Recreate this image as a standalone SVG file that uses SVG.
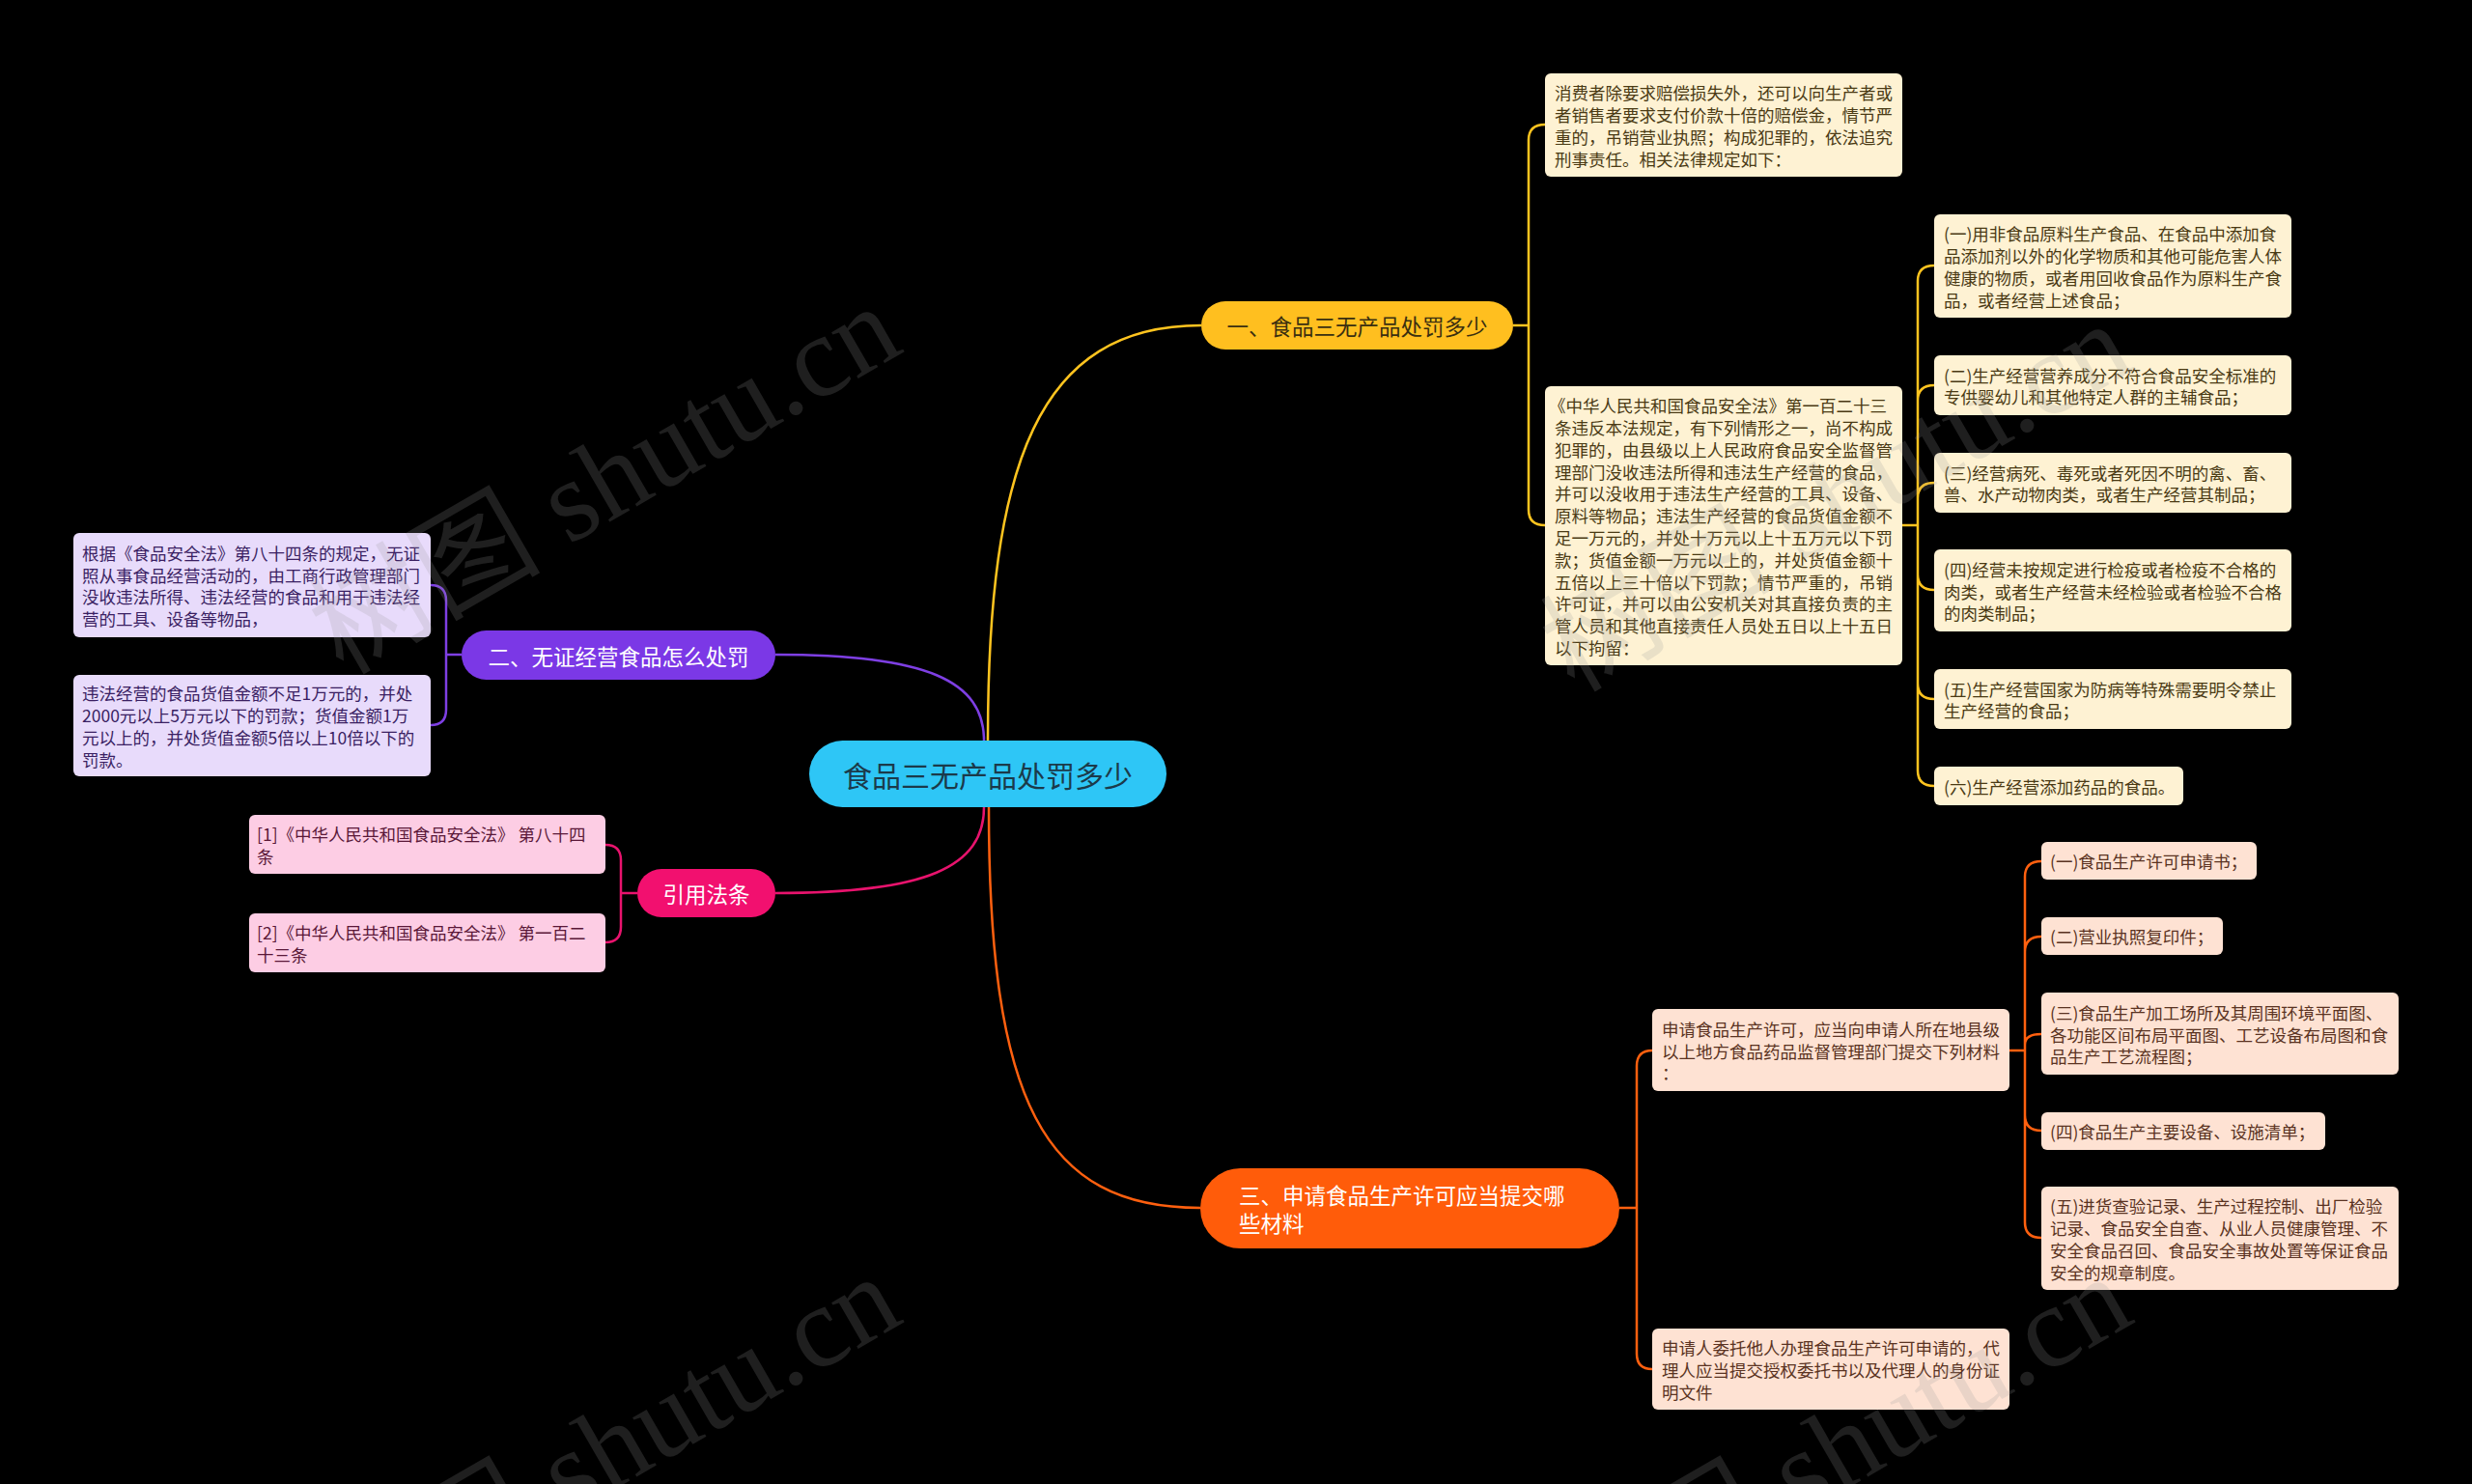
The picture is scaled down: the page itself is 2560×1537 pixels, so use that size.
<svg xmlns="http://www.w3.org/2000/svg" width="2560" height="1537" viewBox="0 0 2560 1537">
<style>
text{font-family:"Noto Sans CJK SC","Noto Sans",sans-serif;dominant-baseline:central}
.lf{font-size:17.5px}
.ly rect{fill:#FEF2D3}.ly text{fill:#4A3A14}
.lp rect{fill:#E8DBFB}.lp text{fill:#3A1F63}
.lk rect{fill:#FDCDE4}.lk text{fill:#5A1838}
.lo rect{fill:#FEE2D3}.lo text{fill:#5A3322}
.mn{font-size:22.5px}
.c{fill:none;stroke-width:2.5}
.cy{stroke:#FFC41F}.cp{stroke:#7E3FE3}.ck{stroke:#E8136D}.co{stroke:#FF600F}
.wm{font-family:"Liberation Serif","Noto Sans CJK SC",serif;font-size:120px;fill:#9a9a9a;opacity:0.2;dominant-baseline:auto}
</style>
<rect width="2560" height="1537" fill="#000"/>
<g id="connectors">
<path class="c cy" d="M1023 767 C1023 480 1075 337 1244 337"/>
<path class="c cp" d="M1019 767 C1019 705 960 678 803 678"/>
<path class="c ck" d="M1019 836 C1019 898 960 925 803 925"/>
<path class="c co" d="M1024 836 C1024 1140 1080 1251 1243 1251"/>
<path class="c cy" d="M1567 337 H1583 M1583 337 V145 Q1583 129 1600 129 M1583 337 V528 Q1583 544 1600 544"/>
<path class="c cy" d="M1970 544 H1986 M1986 544 V291 Q1986 275 2003 275 M1986 544 V415 Q1986 399 2003 399 M1986 544 V516 Q1986 500 2003 500 M1986 544 V595 Q1986 611 2003 611 M1986 544 V708 Q1986 724 2003 724 M1986 544 V798 Q1986 814 2003 814"/>
<path class="c cp" d="M478 678 H462 M462 678 V622 Q462 606 446 606 M462 678 V735 Q462 751 446 751"/>
<path class="c ck" d="M660 925 H643 M643 925 V891 Q643 875 627 875 M643 925 V960 Q643 976 627 976"/>
<path class="c co" d="M1677 1251 H1695 M1695 1251 V1104 Q1695 1088 1711 1088 M1695 1251 V1402 Q1695 1418 1711 1418"/>
<path class="c co" d="M2081 1088 H2097 M2097 1088 V908 Q2097 892 2114 892 M2097 1088 V986 Q2097 970 2114 970 M2097 1088 V1082 Q2097 1071 2114 1071 M2097 1088 V1155 Q2097 1171 2114 1171 M2097 1088 V1266 Q2097 1282 2114 1282"/>
</g>
<g id="root"><rect x="838" y="767" width="370" height="69" rx="34.5" fill="#2EC6F6"/><text x="1023" y="801.5" font-size="30" text-anchor="middle" fill="#1B3A4A">食品三无产品处罚多少</text></g>
<g id="n1"><rect x="1244" y="312" width="323" height="50" rx="25" fill="#FFBF1F"/><text class="mn" x="1405.5" y="337" text-anchor="middle" fill="#3A2F10">一、食品三无产品处罚多少</text></g>
<g id="n2"><rect x="478" y="653" width="325" height="51" rx="25.5" fill="#7B38E6"/><text class="mn" x="640.5" y="678.5" text-anchor="middle" fill="#fff">二、无证经营食品怎么处罚</text></g>
<g id="n3"><rect x="660" y="900" width="143" height="50" rx="25" fill="#F2106F"/><text class="mn" x="731.5" y="925" text-anchor="middle" fill="#fff">引用法条</text></g>
<g id="n4"><rect x="1243" y="1210" width="434" height="83" rx="41.5" fill="#FF5C0A"/><text class="mn" fill="#fff"><tspan x="1283" y="1237">三、申请食品生产许可应当提交哪</tspan><tspan x="1283" y="1266">些材料</tspan></text></g>
<g id="y1" class="ly"><rect x="1600" y="76" width="370" height="107" rx="6"/><text class="lf"><tspan x="1610" y="95.3">消费者除要求赔偿损失外，还可以向生产者或</tspan><tspan x="1610" y="118.1">者销售者要求支付价款十倍的赔偿金，情节严</tspan><tspan x="1610" y="140.9">重的，吊销营业执照；构成犯罪的，依法追究</tspan><tspan x="1610" y="163.7">刑事责任。相关法律规定如下：</tspan></text></g>
<g id="y2" class="ly"><rect x="1600" y="400" width="370" height="289" rx="6"/><text class="lf"><tspan x="1604" y="419.1">《中华人民共和国食品安全法》第一百二十三</tspan><tspan x="1610" y="441.9">条违反本法规定，有下列情形之一，尚不构成</tspan><tspan x="1610" y="464.7">犯罪的，由县级以上人民政府食品安全监督管</tspan><tspan x="1610" y="487.5">理部门没收违法所得和违法生产经营的食品，</tspan><tspan x="1610" y="510.3">并可以没收用于违法生产经营的工具、设备、</tspan><tspan x="1610" y="533.1">原料等物品；违法生产经营的食品货值金额不</tspan><tspan x="1610" y="555.9">足一万元的，并处十万元以上十五万元以下罚</tspan><tspan x="1610" y="578.7">款；货值金额一万元以上的，并处货值金额十</tspan><tspan x="1610" y="601.5">五倍以上三十倍以下罚款；情节严重的，吊销</tspan><tspan x="1610" y="624.3">许可证，并可以由公安机关对其直接负责的主</tspan><tspan x="1610" y="647.1">管人员和其他直接责任人员处五日以上十五日</tspan><tspan x="1610" y="669.9">以下拘留：</tspan></text></g>
<g id="y3" class="ly"><rect x="2003" y="222" width="370" height="107" rx="6"/><text class="lf"><tspan x="2013" y="241.3">(一)用非食品原料生产食品、在食品中添加食</tspan><tspan x="2013" y="264.1">品添加剂以外的化学物质和其他可能危害人体</tspan><tspan x="2013" y="286.9">健康的物质，或者用回收食品作为原料生产食</tspan><tspan x="2013" y="309.7">品，或者经营上述食品；</tspan></text></g>
<g id="y4" class="ly"><rect x="2003" y="368" width="370" height="62" rx="6"/><text class="lf"><tspan x="2013" y="387.6">(二)生产经营营养成分不符合食品安全标准的</tspan><tspan x="2013" y="410.4">专供婴幼儿和其他特定人群的主辅食品；</tspan></text></g>
<g id="y5" class="ly"><rect x="2003" y="469" width="370" height="62" rx="6"/><text class="lf"><tspan x="2013" y="488.6">(三)经营病死、毒死或者死因不明的禽、畜、</tspan><tspan x="2013" y="511.4">兽、水产动物肉类，或者生产经营其制品；</tspan></text></g>
<g id="y6" class="ly"><rect x="2003" y="569" width="370" height="85" rx="6"/><text class="lf"><tspan x="2013" y="588.7">(四)经营未按规定进行检疫或者检疫不合格的</tspan><tspan x="2013" y="611.5">肉类，或者生产经营未经检验或者检验不合格</tspan><tspan x="2013" y="634.3">的肉类制品；</tspan></text></g>
<g id="y7" class="ly"><rect x="2003" y="693" width="370" height="62" rx="6"/><text class="lf"><tspan x="2013" y="712.6">(五)生产经营国家为防病等特殊需要明令禁止</tspan><tspan x="2013" y="735.4">生产经营的食品；</tspan></text></g>
<g id="y8" class="ly"><rect x="2003" y="794" width="258" height="40" rx="6"/><text class="lf" x="2013" y="814">(六)生产经营添加药品的食品。</text></g>
<g id="p1" class="lp"><rect x="76" y="552" width="370" height="108" rx="6"/><text class="lf"><tspan x="85" y="571.8">根据《食品安全法》第八十四条的规定，无证</tspan><tspan x="85" y="594.6">照从事食品经营活动的，由工商行政管理部门</tspan><tspan x="85" y="617.4">没收违法所得、违法经营的食品和用于违法经</tspan><tspan x="85" y="640.2">营的工具、设备等物品，</tspan></text></g>
<g id="p2" class="lp"><rect x="76" y="699" width="370" height="105" rx="6"/><text class="lf"><tspan x="85" y="717.3">违法经营的食品货值金额不足1万元的，并处</tspan><tspan x="85" y="740.1">2000元以上5万元以下的罚款；货值金额1万</tspan><tspan x="85" y="762.9">元以上的，并处货值金额5倍以上10倍以下的</tspan><tspan x="85" y="785.7">罚款。</tspan></text></g>
<g id="k1" class="lk"><rect x="258" y="844" width="369" height="61" rx="6"/><text class="lf"><tspan x="266" y="863.1">[1]《中华人民共和国食品安全法》 第八十四</tspan><tspan x="266" y="885.9">条</tspan></text></g>
<g id="k2" class="lk"><rect x="258" y="946" width="369" height="61" rx="6"/><text class="lf"><tspan x="266" y="965.1">[2]《中华人民共和国食品安全法》 第一百二</tspan><tspan x="266" y="987.9">十三条</tspan></text></g>
<g id="o1" class="lo"><rect x="1711" y="1045" width="370" height="85" rx="6"/><text class="lf"><tspan x="1721" y="1064.7">申请食品生产许可，应当向申请人所在地县级</tspan><tspan x="1721" y="1087.5">以上地方食品药品监督管理部门提交下列材料</tspan><tspan x="1721" y="1110.3">：</tspan></text></g>
<g id="o2" class="lo"><rect x="1711" y="1376" width="370" height="84" rx="6"/><text class="lf"><tspan x="1721" y="1395.2">申请人委托他人办理食品生产许可申请的，代</tspan><tspan x="1721" y="1418">理人应当提交授权委托书以及代理人的身份证</tspan><tspan x="1721" y="1440.8">明文件</tspan></text></g>
<g id="o3" class="lo"><rect x="2114" y="872" width="223" height="39" rx="6"/><text class="lf" x="2123" y="891.5">(一)食品生产许可申请书；</text></g>
<g id="o4" class="lo"><rect x="2114" y="950" width="188" height="39" rx="6"/><text class="lf" x="2123" y="969.5">(二)营业执照复印件；</text></g>
<g id="o5" class="lo"><rect x="2114" y="1028" width="370" height="85" rx="6"/><text class="lf"><tspan x="2123" y="1047.7">(三)食品生产加工场所及其周围环境平面图、</tspan><tspan x="2123" y="1070.5">各功能区间布局平面图、工艺设备布局图和食</tspan><tspan x="2123" y="1093.3">品生产工艺流程图；</tspan></text></g>
<g id="o6" class="lo"><rect x="2114" y="1152" width="294" height="39" rx="6"/><text class="lf" x="2123" y="1171.5">(四)食品生产主要设备、设施清单；</text></g>
<g id="o7" class="lo"><rect x="2114" y="1229" width="370" height="107" rx="6"/><text class="lf"><tspan x="2123" y="1248.3">(五)进货查验记录、生产过程控制、出厂检验</tspan><tspan x="2123" y="1271.1">记录、食品安全自查、从业人员健康管理、不</tspan><tspan x="2123" y="1293.9">安全食品召回、食品安全事故处置等保证食品</tspan><tspan x="2123" y="1316.7">安全的规章制度。</tspan></text></g>
<g id="watermark">
<text class="wm" x="355" y="700" transform="rotate(-30 355 700)">树图 shutu.cn</text>
<text class="wm" x="1630" y="718" transform="rotate(-30 1630 718)">树图 shutu.cn</text>
<text class="wm" x="355" y="1705" transform="rotate(-30 355 1705)">树图 shutu.cn</text>
<text class="wm" x="1630" y="1705" transform="rotate(-30 1630 1705)">树图 shutu.cn</text>
</g>
</svg>
